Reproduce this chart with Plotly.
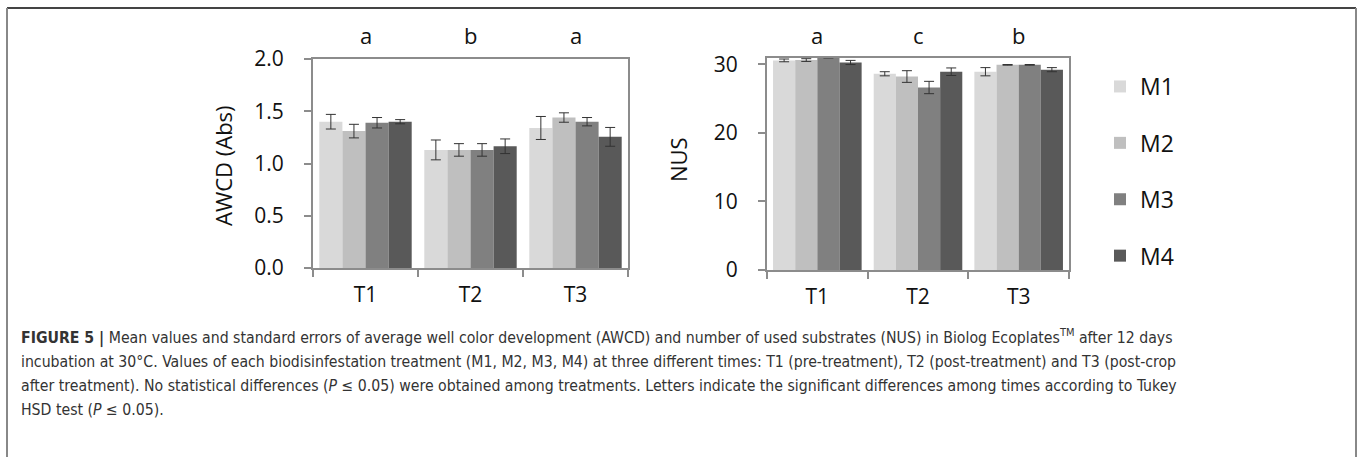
import plotly.graph_objects as go

W, H = 1358, 457

times = ["T1", "T2", "T3"]
treatments = ["M1", "M2", "M3", "M4"]
colors = ["#d9d9d9", "#bfbfbf", "#808080", "#595959"]

awcd_M1 = [1.40, 1.13, 1.34]
awcd_M2 = [1.31, 1.13, 1.44]
awcd_M3 = [1.39, 1.13, 1.40]
awcd_M4 = [1.40, 1.165, 1.255]
awcd_se_M1 = [0.07, 0.095, 0.11]
awcd_se_M2 = [0.065, 0.06, 0.045]
awcd_se_M3 = [0.05, 0.06, 0.04]
awcd_se_M4 = [0.02, 0.07, 0.09]

nus_M1 = [30.55, 28.6, 28.9]
nus_M2 = [30.6, 28.2, 29.9]
nus_M3 = [31.0, 26.6, 29.9]
nus_M4 = [30.25, 28.9, 29.2]
nus_se_M1 = [0.2, 0.3, 0.6]
nus_se_M2 = [0.2, 0.85, 0.05]
nus_se_M3 = [0.1, 0.9, 0.05]
nus_se_M4 = [0.3, 0.55, 0.3]

awcd_letters = ["a", "b", "a"]
nus_letters = ["a", "c", "b"]

awcd = [awcd_M1, awcd_M2, awcd_M3, awcd_M4]
awcd_se = [awcd_se_M1, awcd_se_M2, awcd_se_M3, awcd_se_M4]
nus = [nus_M1, nus_M2, nus_M3, nus_M4]
nus_se = [nus_se_M1, nus_se_M2, nus_se_M3, nus_se_M4]

caption_lines = [
    "<b>FIGURE 5 |</b> Mean values and standard errors of average well color development (AWCD) and number of used substrates (NUS) in Biolog Ecoplates<sup>TM</sup> after 12 days",
    "incubation at 30°C. Values of each biodisinfestation treatment (M1, M2, M3, M4) at three different times: T1 (pre-treatment), T2 (post-treatment) and T3 (post-crop",
    "after treatment). No statistical differences (<i>P</i> ≤ 0.05) were obtained among treatments. Letters indicate the significant differences among times according to Tukey",
    "HSD test (<i>P</i> ≤ 0.05).",
]

def px_x(x):
    return x / W

def px_y(y):
    return 1 - y / H

CH_FONT = "Open Sans, Lato, sans-serif"
CAP_FONT = "Liberation Sans Narrow, DejaVu Sans Condensed, Liberation Sans, sans-serif"

fig = go.Figure()

for i, name in enumerate(treatments):
    fig.add_trace(go.Bar(
        x=times, y=awcd[i], name=name, marker_color=colors[i], marker_line_width=0,
        error_y=dict(type="data", array=awcd_se[i], color="#333333", thickness=1, width=5),
        xaxis="x", yaxis="y", legendgroup=name, showlegend=True,
    ))
for i, name in enumerate(treatments):
    fig.add_trace(go.Bar(
        x=times, y=nus[i], name=name, marker_color=colors[i], marker_line_width=0,
        error_y=dict(type="data", array=nus_se[i], color="#333333", thickness=1, width=5),
        xaxis="x2", yaxis="y2", legendgroup=name, showlegend=False,
    ))

axis_common = dict(
    showline=True, linecolor="#8c8c8c", linewidth=2, mirror=True,
    showgrid=False, zeroline=False, ticks="outside", ticklen=7,
    tickcolor="#8c8c8c", tickwidth=2, automargin=False,
    tickfont=dict(family=CH_FONT, size=21, color="#111111"),
)

fig.update_layout(
    width=W, height=H,
    margin=dict(l=0, r=0, t=0, b=0, pad=0, autoexpand=False),
    paper_bgcolor="white", plot_bgcolor="white",
    barmode="group", bargap=0.12, bargroupgap=0,
    xaxis=dict(domain=[px_x(313), px_x(628)], anchor="y", tickson="boundaries",
               ticklabelstandoff=7, **axis_common),
    yaxis=dict(domain=[px_y(268), px_y(59)], anchor="x", range=[0, 2],
               tickvals=[0, 0.5, 1.0, 1.5, 2.0], tickformat=".1f",
               ticklabelstandoff=16, **axis_common),
    xaxis2=dict(domain=[px_x(767), px_x(1069)], anchor="y2", tickson="boundaries",
                ticklabelstandoff=7, **axis_common),
    yaxis2=dict(domain=[px_y(270), px_y(58)], anchor="x2", range=[0, 30.9],
                tickvals=[0, 10, 20, 30], ticklabelstandoff=16, **axis_common),
    legend=dict(x=px_x(1100), y=px_y(65), xanchor="left", yanchor="top",
                font=dict(family=CH_FONT, size=23, color="#111111"),
                tracegroupgap=23.5, itemwidth=30, bgcolor="rgba(0,0,0,0)"),
    showlegend=True,
)

ann = []
for t, l in zip(times, awcd_letters):
    ann.append(dict(x=t, xref="x", y=px_y(52), yref="paper", text=l, showarrow=False,
                    yanchor="bottom", font=dict(family=CH_FONT, size=22, color="#111111")))
for t, l in zip(times, nus_letters):
    ann.append(dict(x=t, xref="x2", y=px_y(52), yref="paper", text=l, showarrow=False,
                    yanchor="bottom", font=dict(family=CH_FONT, size=22, color="#111111")))
ann.append(dict(x=px_x(206), y=px_y(165), xref="paper", yref="paper", text="AWCD (Abs)",
                textangle=-90, showarrow=False, font=dict(family=CH_FONT, size=22, color="#111111")))
ann.append(dict(x=px_x(678), y=px_y(160), xref="paper", yref="paper", text="NUS",
                textangle=-90, showarrow=False, font=dict(family=CH_FONT, size=22, color="#111111")))

cap_y = [337, 361, 385, 409]
for line, yy in zip(caption_lines, cap_y):
    ann.append(dict(x=px_x(19), y=px_y(yy), xref="paper", yref="paper", text=line,
                    xanchor="left", yanchor="middle", showarrow=False,
                    font=dict(family=CAP_FONT, size=15.7, color="#333333")))
fig.update_layout(annotations=ann)

fig.update_layout(shapes=[
    dict(type="line", xref="paper", yref="paper", x0=px_x(7), x1=px_x(1356), y0=px_y(8), y1=px_y(8),
         line=dict(color="#444444", width=2)),
    dict(type="line", xref="paper", yref="paper", x0=px_x(7), x1=px_x(7), y0=px_y(8), y1=0,
         line=dict(color="#888888", width=2)),
    dict(type="line", xref="paper", yref="paper", x0=px_x(1356), x1=px_x(1356), y0=px_y(8), y1=0,
         line=dict(color="#888888", width=2)),
])

fig.write_html("out.html")
